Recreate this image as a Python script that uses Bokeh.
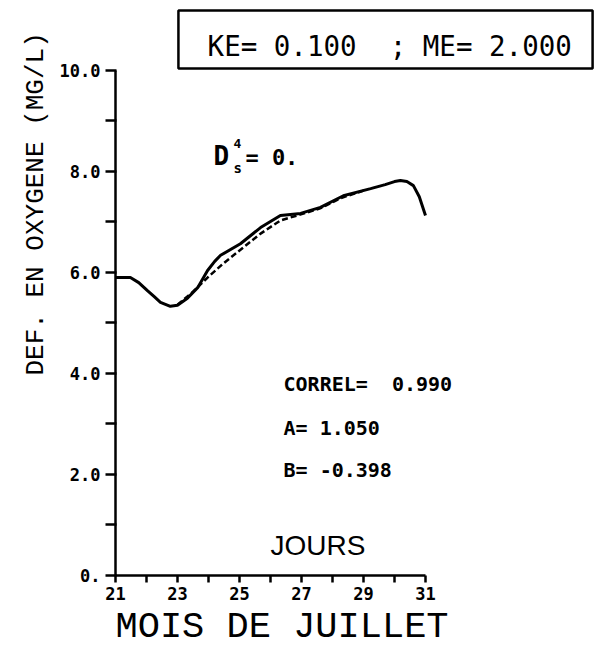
import math
from bokeh.plotting import figure
from bokeh.models import Range1d, FixedTicker, Label, Title, BoxAnnotation
from bokeh.embed import file_html
from bokeh.resources import INLINE

# ---- data ----
model_days = [21.0, 21.48, 21.75, 22.03, 22.25, 22.45, 22.77, 23.0, 23.32, 23.65, 23.97,
              24.2, 24.39, 25.03, 25.68, 26.32, 26.97, 27.61, 28.35, 29.23, 29.7,
              30.0, 30.19, 30.4, 30.61, 30.8, 31.0]
model_def = [5.90, 5.90, 5.80, 5.64, 5.52, 5.41, 5.33, 5.35, 5.49, 5.70, 6.04,
             6.22, 6.34, 6.57, 6.89, 7.13, 7.17, 7.29, 7.52, 7.66, 7.74,
             7.80, 7.82, 7.80, 7.72, 7.50, 7.13]

obs_days = [23.0, 23.5, 23.97, 24.48, 25.13, 25.68, 26.32, 27.19, 27.6, 28.3, 29.0]
obs_def = [5.36, 5.62, 5.90, 6.18, 6.50, 6.77, 7.03, 7.19, 7.27, 7.48, 7.62]

x_major = [21, 23, 25, 27, 29, 31]
x_minor = [22, 24, 26, 28, 30]
y_major = [0, 2, 4, 6, 8, 10]
y_minor = [1, 3, 5, 7, 9]
y_labels = ["0.", "2.0", "4.0", "6.0", "8.0", "10.0"]

MONO = "DejaVu Sans Mono"
NB = "\u00a0"

# frame extends past the axes so that the texts inside it are not clipped;
# the axes themselves are bounded to 21..31 and 0..10
p = figure(width=595, height=655, output_backend="svg", toolbar_location=None,
           x_range=Range1d(21, 36.484), y_range=Range1d(0, 11.386),
           min_border_left=115, min_border_top=0, min_border_right=0,
           min_border_bottom=80)
p.outline_line_color = None
p.xgrid.visible = False
p.ygrid.visible = False
p.background_fill_color = "white"
p.border_fill_color = "white"

for ax in (p.xaxis[0], p.yaxis[0]):
    ax.axis_line_width = 2.5
    ax.axis_line_color = "black"
    ax.major_tick_line_width = 2.5
    ax.minor_tick_line_width = 2.5
    ax.major_tick_line_color = "black"
    ax.minor_tick_line_color = "black"
    ax.major_label_text_font = MONO
    ax.major_label_text_font_style = "bold"
    ax.major_label_text_font_size = "17px"
    ax.major_label_text_color = "black"

xa = p.xaxis[0]
xa.bounds = (21, 31)
xa.ticker = FixedTicker(ticks=x_major, minor_ticks=x_minor)
xa.major_tick_out = 7
xa.major_tick_in = 0
xa.minor_tick_out = 7
xa.minor_tick_in = 0
xa.major_label_standoff = 4

ya = p.yaxis[0]
ya.bounds = (0, 10)
ya.ticker = FixedTicker(ticks=y_major, minor_ticks=y_minor)
ya.major_label_overrides = {v: s for v, s in zip(y_major, y_labels)}
ya.major_tick_out = 10
ya.major_tick_in = 1
ya.minor_tick_out = 10
ya.minor_tick_in = 1
ya.major_label_standoff = 5

# axis titles as side-panel titles
p.add_layout(Title(text="MOIS DE JUILLET", align="left", offset=0, standoff=2,
                   text_font="Liberation Mono", text_font_style="normal",
                   text_font_size="37px", text_color="black"), "below")
p.add_layout(Title(text="DEF. EN OXYGENE (MG/L)", align="left", offset=200, standoff=12,
                   text_font="Liberation Mono", text_font_style="normal",
                   text_font_size="26px", text_color="black"), "left")

# curves
p.line(model_days, model_def, line_color="black", line_width=3)
p.line(obs_days, obs_def, line_color="black", line_width=2.5, line_dash="6 3")

# KE / ME box
p.add_layout(BoxAnnotation(left=23.03, right=36.39, top=11.19, bottom=10.04,
                           fill_color="white", fill_alpha=1.0,
                           line_color="black", line_alpha=1.0, line_width=2.5))
p.add_layout(Label(x=23.97, y=10.49, text=f"KE= 0.100{NB}{NB}; ME= 2.000",
                   text_font=MONO, text_font_size="27.5px", text_align="left",
                   text_baseline="middle", text_color="black"))

# D^4_s = 0.
p.add_layout(Label(x=24.16, y=8.30, text="D", text_font=MONO, text_font_size="26px",
                   text_font_style="bold", text_align="left", text_baseline="middle",
                   text_color="black"))
p.add_layout(Label(x=24.81, y=8.55, text="4", text_font=MONO, text_font_size="13px",
                   text_font_style="bold", text_align="left", text_baseline="middle",
                   text_color="black"))
p.add_layout(Label(x=24.81, y=8.06, text="s", text_font=MONO, text_font_size="14px",
                   text_font_style="bold", text_align="left", text_baseline="middle",
                   text_color="black"))
p.add_layout(Label(x=25.19, y=8.28, text="= 0.", text_font=MONO, text_font_size="22px",
                   text_font_style="bold", text_align="left", text_baseline="middle",
                   text_color="black"))

# statistics
for yy, txt in [(3.80, f"CORREL={NB}{NB}0.990"), (2.93, "A= 1.050"), (2.08, "B= -0.398")]:
    p.add_layout(Label(x=26.42, y=yy, text=txt, text_font=MONO, text_font_size="20px",
                       text_font_style="bold", text_align="left", text_baseline="middle",
                       text_color="black"))

p.add_layout(Label(x=26.0, y=0.59, text="JOURS", text_font="Liberation Sans",
                   text_font_size="28px", text_align="left", text_baseline="middle",
                   text_color="black"))

open("out.html", "w").write(file_html(p, INLINE))
